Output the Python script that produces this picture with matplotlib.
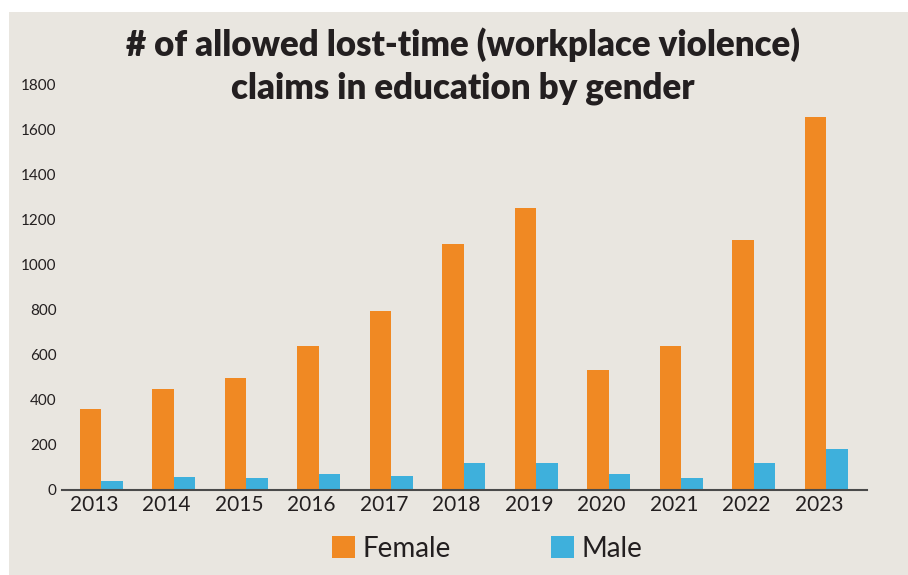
import numpy as np
import matplotlib.pyplot as plt
from matplotlib.patches import Rectangle

# 데이터
years = ['2013', '2014', '2015', '2016', '2017', '2018', '2019', '2020', '2021', '2022', '2023']
female = [358, 447, 496, 638, 793, 1091, 1251, 531, 638, 1109, 1656]
male = [38, 56, 51, 69, 60, 118, 118, 69, 51, 118, 180]

plt.rcParams['font.family'] = ['Lato', 'DejaVu Sans']
text_color = '#231F20'
orange = '#F08923'
blue = '#3EB0DC'
panel = '#E9E6E0'

fig = plt.figure(figsize=(9.08, 5.75), dpi=100, facecolor='white')
# 배경 패널
fig.patches.append(Rectangle((9 / 908, 0), 1, 1 - 12 / 575, transform=fig.transFigure,
                             facecolor=panel, edgecolor='none', zorder=-1))

ax = fig.add_axes([62 / 908, (575 - 489.5) / 575, 805 / 908, (489.5 - 85) / 575])
ax.set_facecolor('none')

x = np.arange(len(years))
w = 0.295
ax.bar(x - w / 2, female, width=w, color=orange, label='Female')
ax.bar(x + w / 2, male, width=w, color=blue, label='Male')

ax.set_xlim(-0.54, len(years) - 1 + 0.56)
ax.set_ylim(0, 1800)
ax.set_yticks(range(0, 1801, 200))
ax.tick_params(axis='y', length=0, pad=4, labelsize=11, labelcolor=text_color)
ax.set_xticks(x - 0.1)
ax.set_xticklabels(years)
ax.tick_params(axis='x', length=0, pad=4, labelsize=15, labelcolor=text_color)

for s in ['top', 'right', 'left']:
    ax.spines[s].set_visible(False)
ax.spines['bottom'].set_color('#4a4a4a')
ax.spines['bottom'].set_linewidth(1.5)

# 제목
fig.text(463 / 908, 1 - 45 / 575, '# of allowed lost-time (workplace violence)',
         ha='center', va='center', fontsize=25, fontweight='heavy', color=text_color)
fig.text(463 / 908, 1 - 88 / 575, 'claims in education by gender',
         ha='center', va='center', fontsize=25, fontweight='heavy', color=text_color)

# 범례
fig.legend(loc='center', bbox_to_anchor=(487 / 908, 1 - 549 / 575), ncol=2, frameon=False,
           fontsize=20, handlelength=0.85, handleheight=0.85, handletextpad=0.25,
           columnspacing=3.6, labelcolor=text_color)

plt.savefig('out.png', dpi=100, facecolor='white')
